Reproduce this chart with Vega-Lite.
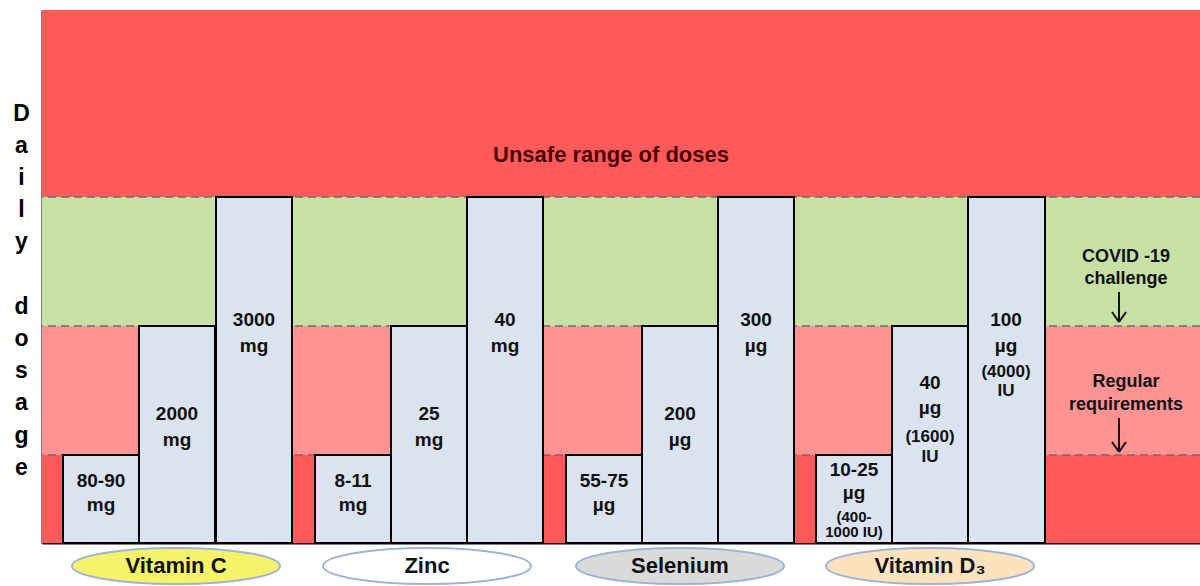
{
  "$schema": "https://vega.github.io/schema/vega-lite/v6.json",
  "width": 1158,
  "height": 533,
  "autosize": {"type": "none"},
  "padding": {"left": 42, "top": 10, "right": 0, "bottom": 43},
  "background": "white",
  "config": {"view": {"stroke": null}, "font": "Liberation Sans"},
  "resolve": {
    "scale": {"fill": "independent", "size": "independent", "color": "independent"},
    "axis": {"x": "independent", "y": "independent"}
  },
  "datasets": {
    "bands": [
      {"zone": "Below requirement", "y0": 0, "y1": 88},
      {"zone": "Regular requirements", "y0": 88, "y1": 217},
      {"zone": "COVID-19 challenge", "y0": 217, "y1": 346},
      {"zone": "Unsafe range of doses", "y0": 346, "y1": 533}
    ],
    "limits": [{"y": 88}, {"y": 217}, {"y": 346}],
    "bars": [
      {"nutrient": "Vitamin C", "level": "regular", "x0": 21, "x1": 97, "top": 88},
      {"nutrient": "Vitamin C", "level": "covid", "x0": 97, "x1": 173, "top": 217},
      {"nutrient": "Vitamin C", "level": "max", "x0": 174, "x1": 250, "top": 346},
      {"nutrient": "Zinc", "level": "regular", "x0": 273, "x1": 349, "top": 88},
      {"nutrient": "Zinc", "level": "covid", "x0": 349, "x1": 425, "top": 217},
      {"nutrient": "Zinc", "level": "max", "x0": 425, "x1": 501, "top": 346},
      {"nutrient": "Selenium", "level": "regular", "x0": 524, "x1": 600, "top": 88},
      {"nutrient": "Selenium", "level": "covid", "x0": 600, "x1": 676, "top": 217},
      {"nutrient": "Selenium", "level": "max", "x0": 676, "x1": 752, "top": 346},
      {"nutrient": "Vitamin D3", "level": "regular", "x0": 774, "x1": 850, "top": 88},
      {"nutrient": "Vitamin D3", "level": "covid", "x0": 850, "x1": 926, "top": 217},
      {"nutrient": "Vitamin D3", "level": "max", "x0": 926, "x1": 1003, "top": 346}
    ],
    "barLabels": [
      {"x": 59, "y": 62, "text": "80-90", "kind": "main"},
      {"x": 59, "y": 38, "text": "mg", "kind": "main"},
      {"x": 135, "y": 129, "text": "2000", "kind": "main"},
      {"x": 135, "y": 103, "text": "mg", "kind": "main"},
      {"x": 212, "y": 223, "text": "3000", "kind": "main"},
      {"x": 212, "y": 197, "text": "mg", "kind": "main"},
      {"x": 311, "y": 62, "text": "8-11", "kind": "main"},
      {"x": 311, "y": 38, "text": "mg", "kind": "main"},
      {"x": 387, "y": 129, "text": "25", "kind": "main"},
      {"x": 387, "y": 103, "text": "mg", "kind": "main"},
      {"x": 463, "y": 223, "text": "40", "kind": "main"},
      {"x": 463, "y": 197, "text": "mg", "kind": "main"},
      {"x": 562, "y": 62, "text": "55-75", "kind": "main"},
      {"x": 562, "y": 38, "text": "µg", "kind": "main"},
      {"x": 638, "y": 129, "text": "200", "kind": "main"},
      {"x": 638, "y": 103, "text": "µg", "kind": "main"},
      {"x": 714, "y": 223, "text": "300", "kind": "main"},
      {"x": 714, "y": 197, "text": "µg", "kind": "main"},
      {"x": 812, "y": 73, "text": "10-25", "kind": "main"},
      {"x": 812, "y": 50, "text": "µg", "kind": "main"},
      {"x": 812, "y": 26, "text": "(400-", "kind": "note"},
      {"x": 812, "y": 11, "text": "1000 IU)", "kind": "note"},
      {"x": 888, "y": 160, "text": "40", "kind": "main"},
      {"x": 888, "y": 135, "text": "µg", "kind": "main"},
      {"x": 888, "y": 106, "text": "(1600)", "kind": "iu"},
      {"x": 888, "y": 86, "text": "IU", "kind": "iu"},
      {"x": 964, "y": 223, "text": "100", "kind": "main"},
      {"x": 964, "y": 197, "text": "µg", "kind": "main"},
      {"x": 964, "y": 171, "text": "(4000)", "kind": "iu"},
      {"x": 964, "y": 152, "text": "IU", "kind": "iu"}
    ],
    "zoneLabels": [
      {"x": 569, "y": 388, "text": "Unsafe range of doses", "kind": "unsafe"},
      {"x": 1084, "y": 286, "text": "COVID -19", "kind": "side"},
      {"x": 1084, "y": 264, "text": "challenge", "kind": "side"},
      {"x": 1084, "y": 161, "text": "Regular", "kind": "side"},
      {"x": 1084, "y": 138, "text": "requirements", "kind": "side"}
    ],
    "arrows": [
      {"x": 1077, "y": 251, "x2": 1077, "y2": 221},
      {"x": 1070, "y": 231, "x2": 1077, "y2": 221},
      {"x": 1084, "y": 231, "x2": 1077, "y2": 221},
      {"x": 1077, "y": 125, "x2": 1077, "y2": 91},
      {"x": 1070, "y": 101, "x2": 1077, "y2": 91},
      {"x": 1084, "y": 101, "x2": 1077, "y2": 91}
    ],
    "nutrients": [
      {"nutrient": "Vitamin C", "label": "Vitamin C", "cx": 134},
      {"nutrient": "Zinc", "label": "Zinc", "cx": 385},
      {"nutrient": "Selenium", "label": "Selenium", "cx": 638},
      {"nutrient": "Vitamin D3", "label": "Vitamin D₃", "cx": 888}
    ]
  },
  "layer": [
    {
      "data": {"name": "bands"},
      "mark": {"type": "rect"},
      "encoding": {
        "x": {"datum": 0, "type": "quantitative",
              "scale": {"domain": [0, 1158], "nice": false, "zero": false},
              "axis": {"domain": true, "domainColor": "#000000", "domainWidth": 2, "labels": false, "ticks": false, "grid": false, "title": null}},
        "x2": {"datum": 1158},
        "y": {"field": "y0", "type": "quantitative",
              "scale": {"domain": [0, 533], "nice": false, "zero": false},
              "axis": {"domain": true, "domainColor": "#000000", "domainWidth": 2, "labels": false, "ticks": false, "grid": false,
                       "title": ["D", "a", "i", "l", "y", "\u200b", "d", "o", "s", "a", "g", "e"],
                       "titleAngle": 0, "titleAlign": "center", "titleBaseline": "alphabetic",
                       "titleX": -21, "titleY": 110, "titleLineHeight": 32.2,
                       "titleFontSize": 23, "titleFontWeight": "bold", "titleColor": "#000000", "titleFont": "Liberation Sans"}},
        "y2": {"field": "y1"},
        "fill": {"field": "zone", "type": "nominal",
                 "scale": {"domain": ["Below requirement", "Regular requirements", "COVID-19 challenge", "Unsafe range of doses"],
                           "range": ["#FF5A5A", "#FF9292", "#C6E0A6", "#FF5A5A"]},
                 "legend": null}
      }
    },
    {
      "data": {"name": "limits"},
      "mark": {"type": "rule", "color": "#6E6E6E", "strokeWidth": 1.6, "strokeDash": [8, 5]},
      "encoding": {
        "y": {"field": "y", "type": "quantitative", "axis": null}
      }
    },
    {
      "data": {"name": "bars"},
      "mark": {"type": "rect", "fill": "#DAE3EF", "stroke": "#000000", "strokeWidth": 2},
      "encoding": {
        "x": {"field": "x0", "type": "quantitative", "axis": null},
        "x2": {"field": "x1"},
        "y": {"field": "top", "type": "quantitative", "axis": null},
        "y2": {"datum": 0}
      }
    },
    {
      "data": {"name": "barLabels"},
      "mark": {"type": "text", "fontWeight": "bold", "color": "#111111", "baseline": "middle", "align": "center"},
      "encoding": {
        "x": {"field": "x", "type": "quantitative", "axis": null},
        "y": {"field": "y", "type": "quantitative", "axis": null},
        "text": {"field": "text"},
        "size": {"field": "kind", "type": "ordinal",
                 "scale": {"domain": ["main", "iu", "note"], "range": [19, 15, 13]}, "legend": null}
      }
    },
    {
      "data": {"name": "zoneLabels"},
      "mark": {"type": "text", "fontWeight": "bold", "baseline": "middle", "align": "center"},
      "encoding": {
        "x": {"field": "x", "type": "quantitative", "axis": null},
        "y": {"field": "y", "type": "quantitative", "axis": null},
        "text": {"field": "text"},
        "size": {"field": "kind", "type": "ordinal",
                 "scale": {"domain": ["unsafe", "side"], "range": [22, 18]}, "legend": null},
        "color": {"field": "kind", "type": "nominal",
                  "scale": {"domain": ["unsafe", "side"], "range": ["#4A0000", "#111111"]}, "legend": null}
      }
    },
    {
      "data": {"name": "arrows"},
      "mark": {"type": "rule", "color": "#111111", "strokeWidth": 2},
      "encoding": {
        "x": {"field": "x", "type": "quantitative", "axis": null},
        "y": {"field": "y", "type": "quantitative", "axis": null},
        "x2": {"field": "x2"},
        "y2": {"field": "y2"}
      }
    },
    {
      "data": {"name": "nutrients"},
      "mark": {"type": "point", "filled": true, "opacity": 1, "stroke": "#9DB4D8", "strokeWidth": 2,
               "shape": "M -1 0 A 1 0.173 0 1 0 1 0 A 1 0.173 0 1 0 -1 0", "size": 43264},
      "encoding": {
        "x": {"field": "cx", "type": "quantitative", "axis": null},
        "y": {"datum": -23, "type": "quantitative", "axis": null},
        "fill": {"field": "nutrient", "type": "nominal",
                 "scale": {"domain": ["Vitamin C", "Zinc", "Selenium", "Vitamin D3"],
                           "range": ["#F6F26C", "#FFFFFF", "#DADADA", "#FCE3BD"]}, "legend": null}
      }
    },
    {
      "data": {"name": "nutrients"},
      "mark": {"type": "text", "fontWeight": "bold", "fontSize": 22, "color": "#111111", "baseline": "middle", "align": "center"},
      "encoding": {
        "x": {"field": "cx", "type": "quantitative", "axis": null},
        "y": {"datum": -23, "type": "quantitative", "axis": null},
        "text": {"field": "label"}
      }
    }
  ]
}
